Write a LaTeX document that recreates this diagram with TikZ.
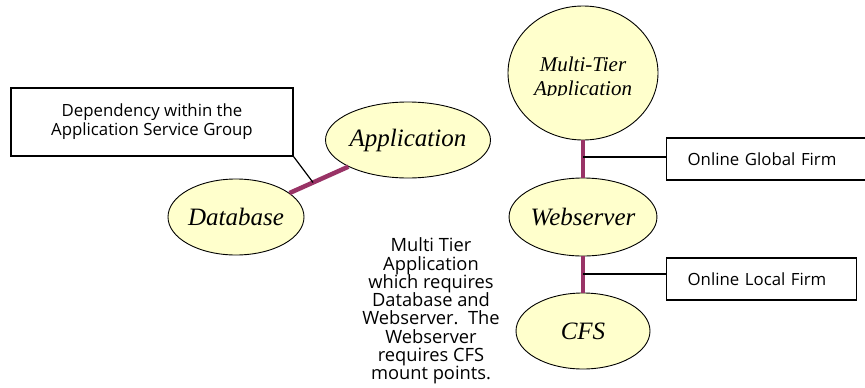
\documentclass[tikz,border=0pt]{standalone}
\usepackage{fontspec}
\setmainfont{Liberation Serif}
\newfontfamily\sansf{Open Sans}
\usetikzlibrary{shapes.geometric,calc}
\definecolor{ellfill}{HTML}{FFFFCC}
\definecolor{deppurple}{HTML}{993366}
\begin{document}
\begin{tikzpicture}[x=1pt,y=-1pt,
  svc/.style={ellipse,draw=black,line width=0.9pt,fill=ellfill,inner sep=0pt,
     font=\fontsize{25}{28}\selectfont\itshape},
  dep/.style={draw=deppurple,line width=4.5pt},
  callout/.style={draw=black,line width=1.2pt},
  lbox/.style={rectangle,draw=black,line width=1.3pt,inner xsep=21pt,inner ysep=0pt,
     minimum height=42pt,align=left,font=\sansf\fontsize{16.8}{19}\selectfont}]
\clip (0,0) rectangle (865,388);
\fill[white] (0,0) rectangle (865,388);
% services
\node[svc,minimum width=150pt,minimum height=134pt] (multi) at (583,73) {};
\begin{scope}
  \clip (500,0) rectangle (670,95);
  \node[align=center,inner sep=0pt,anchor=base,font=\fontsize{21}{24}\selectfont\itshape] (multitxt) at (583,95) {Multi-Tier\\Application};
\end{scope}
\node[svc,minimum width=134pt,minimum height=78pt] (web) at (583,217) {Webserver};
\node[svc,minimum width=134pt,minimum height=76pt] (cfs) at (583,331) {CFS};
\node[svc,minimum width=134pt,minimum height=76pt] (app) at (408,140) {Application};
\node[svc,minimum width=136pt,minimum height=76pt] (db) at (236,217) {Database};
% dependency links
\draw[dep] (multi.south) -- (web.north);
\draw[dep] (web.south) -- (cfs.north);
\draw[dep] (db) -- (app);
% label boxes
\node[lbox,text width=168pt,anchor=west] (glob) at (666,159) {Online Global Firm};
\node[lbox,text width=148pt,anchor=west] (loc) at (666,279) {Online Local Firm};
\node[rectangle,draw=black,line width=1.3pt,minimum width=282pt,minimum height=68pt,
      align=center,inner sep=0pt,font=\sansf\fontsize{16.8}{19}\selectfont] (grp) at (152,122)
      {Dependency within the\\Application Service Group};
% callouts
\coordinate (gc) at (583,157);
\coordinate (lc) at (583,274);
\coordinate (dc) at ($(db)!0.448!(app)$);
\draw[callout] (gc) -- (gc -| glob.west);
\draw[callout] (lc) -- (lc -| loc.west);
\draw[callout] (grp.south east) -- (dc);
% description
\node[align=center,inner sep=0pt,font=\sansf\fontsize{18.3}{18.3}\selectfont] (desc) at (431,311)
  {Multi Tier\\Application\\which requires\\Database and\\Webserver.\ \ The\\Webserver\\requires CFS\\mount points.};
\end{tikzpicture}
\end{document}
